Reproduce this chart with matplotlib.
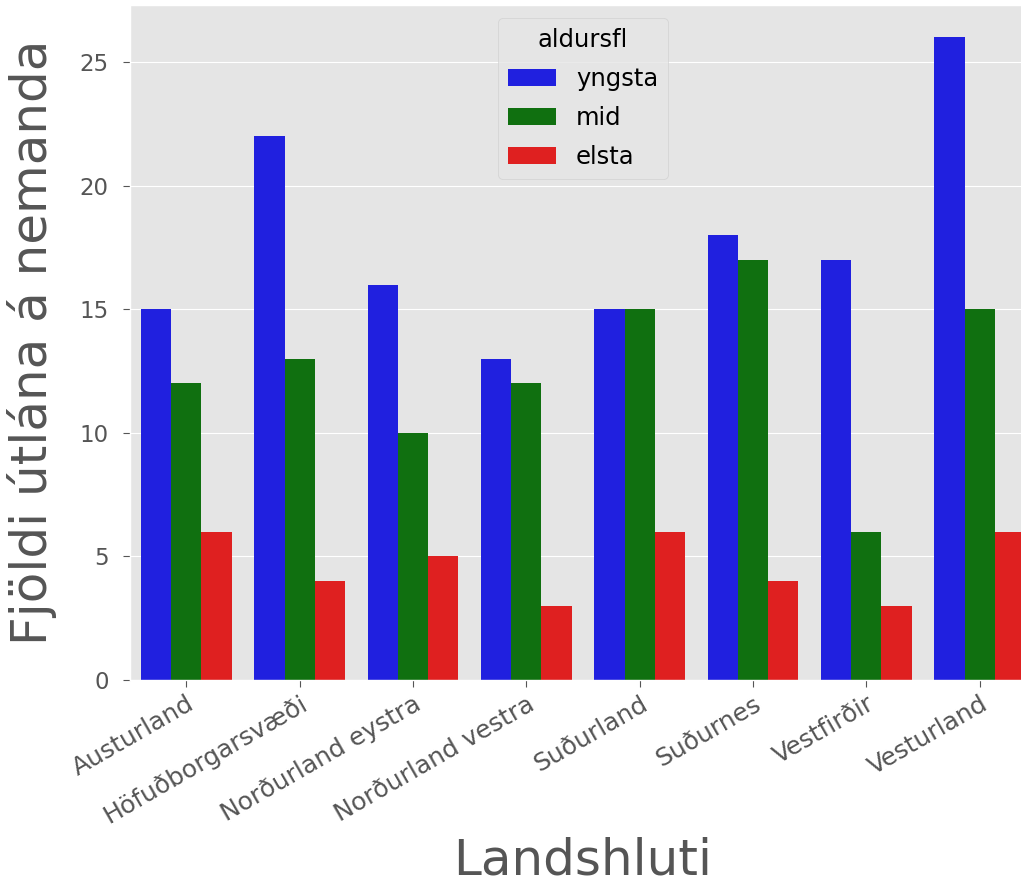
import numpy as np
import pandas as pd
import matplotlib
matplotlib.use("Agg")
import matplotlib.pyplot as plt
import seaborn as sns

plt.style.use('ggplot')

# Data
landshlutar = ['Austurland', 'Höfuðborgarsvæði', 'Norðurland eystra', 'Norðurland vestra',
               'Suðurland', 'Suðurnes', 'Vestfirðir', 'Vesturland']
aldursfl = ['yngsta', 'mid', 'elsta']
yngsta = [15, 22, 16, 13, 15, 18, 17, 26]
mid = [12, 13, 10, 12, 15, 17, 6, 15]
elsta = [6, 4, 5, 3, 6, 4, 3, 6]

df = pd.DataFrame({
    'Landshluti': landshlutar * 3,
    'aldursfl': [a for a in aldursfl for _ in landshlutar],
    'fjoldi': yngsta + mid + elsta,
})

fig = plt.figure(figsize=(10.21, 8.86), dpi=100)
# axes runs a little past the right edge, like the reference
ax = fig.add_axes([0.127, 0.2325, 0.888, 0.7615])

sns.barplot(data=df, x='Landshluti', y='fjoldi', hue='aldursfl',
            hue_order=aldursfl, palette=['blue', 'green', 'red'], ax=ax)

ax.set_ylim(0, 27.3)
ax.set_yticks([0, 5, 10, 15, 20, 25])
ax.tick_params(axis='y', labelsize=16.5, length=5, pad=10)
ax.tick_params(axis='x', labelsize=18, length=5)
ax.set_xticks(range(len(landshlutar)))
ax.set_xticklabels(landshlutar, rotation=30, ha='right', rotation_mode='anchor')
ax.set_xlabel('Landshluti', fontsize=36)
ax.set_ylabel('Fjöldi útlána á nemanda', fontsize=36)
ax.xaxis.set_label_coords(0.5, -0.232)
ax.yaxis.set_label_coords(-0.08, 0.5)
ax.xaxis.grid(False)

leg = ax.legend(title='aldursfl', loc='upper center', bbox_to_anchor=(0.5, 0.981),
                borderaxespad=0, fontsize=17.5, title_fontsize=17.5, labelspacing=0.62)

fig.savefig('out.png', dpi=100)
